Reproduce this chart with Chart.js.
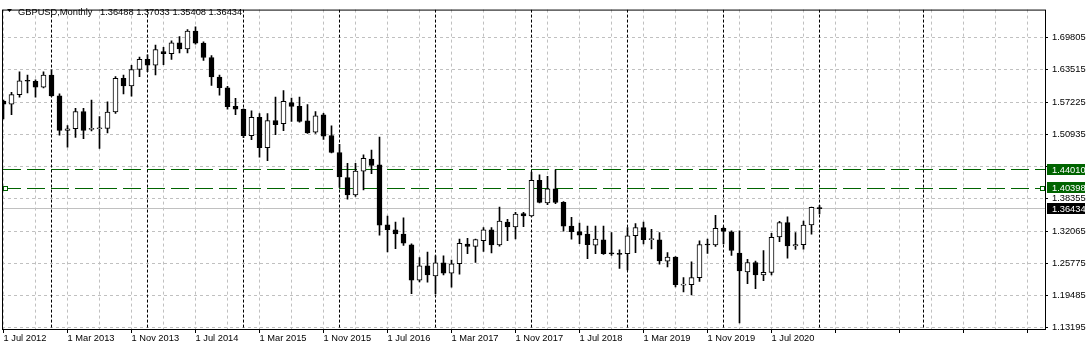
<!DOCTYPE html>
<html>
<head>
<meta charset="utf-8">
<title>GBPUSD,Monthly</title>
<script src="https://cdn.jsdelivr.net/npm/chart.js@4.4.1/dist/chart.umd.min.js"></script>
<style>
  html, body { margin: 0; padding: 0; background: #fff; }
</style>
</head>
<body>
<canvas id="myChart" width="1091" height="351"></canvas>
<script>
// monthly bars, index 0 = Jul 2012, last = Jan 2021
const opens = [
  1.5743, 1.5680, 1.5870, 1.6137, 1.6130, 1.6016, 1.6251, 1.5845, 1.5172, 1.5203,
  1.5540, 1.5190, 1.5203, 1.5210, 1.5530, 1.6187, 1.6041, 1.6359, 1.6556, 1.6442,
  1.6708, 1.6670, 1.6880, 1.6759, 1.7108, 1.6873, 1.6594, 1.6213, 1.6003, 1.5641,
  1.5584, 1.5070, 1.5426, 1.4834, 1.5362, 1.5300, 1.5715, 1.5638, 1.5358, 1.5135,
  1.5473, 1.5071, 1.4740, 1.4250, 1.3912, 1.4377, 1.4613, 1.4498, 1.3326, 1.3231,
  1.3148, 1.2937, 1.2249, 1.2530, 1.2332, 1.2587, 1.2383, 1.2568, 1.2950, 1.2906,
  1.3020, 1.3230, 1.2937, 1.3383, 1.3288, 1.3549, 1.3500, 1.4197, 1.3753, 1.4032,
  1.3767, 1.3305, 1.3196, 1.3145, 1.2930, 1.3037, 1.2770, 1.2760, 1.2764, 1.3114,
  1.3273, 1.3040, 1.3037, 1.2620, 1.2700, 1.2152, 1.2160, 1.2297, 1.2942, 1.2935,
  1.3260, 1.3190, 1.2777, 1.2408, 1.2592, 1.2350, 1.2401, 1.3092, 1.3371, 1.2918,
  1.2943, 1.3328, 1.36488
];
const highs = [
  1.5760, 1.5914, 1.6315, 1.6251, 1.6156, 1.6315, 1.6346, 1.5883, 1.5267, 1.5603,
  1.5603, 1.5762, 1.5438, 1.5730, 1.6219, 1.6251, 1.6442, 1.6600, 1.6645, 1.6835,
  1.6791, 1.6918, 1.7000, 1.7140, 1.7191, 1.6899, 1.6632, 1.6251, 1.6029, 1.5794,
  1.5590, 1.5553, 1.5501, 1.5498, 1.5819, 1.5950, 1.5800, 1.5823, 1.5676, 1.5536,
  1.5504, 1.5262, 1.4899, 1.4530, 1.4530, 1.4695, 1.4785, 1.5039, 1.3498, 1.3383,
  1.3466, 1.2956, 1.2690, 1.2797, 1.2721, 1.2721, 1.2638, 1.3052, 1.3065, 1.3052,
  1.3275, 1.3275, 1.3676, 1.3434, 1.3574, 1.3574, 1.4357, 1.4305, 1.4273, 1.4401,
  1.3780, 1.3473, 1.3362, 1.3305, 1.3304, 1.3304, 1.3176, 1.2840, 1.3273, 1.3350,
  1.3380, 1.3240, 1.3176, 1.2784, 1.2710, 1.2300, 1.2605, 1.3018, 1.3050, 1.3515,
  1.3284, 1.3209, 1.3209, 1.2655, 1.2618, 1.2827, 1.3164, 1.3395, 1.3482, 1.3177,
  1.3400, 1.3675, 1.37033
];
const lows = [
  1.5394, 1.5476, 1.5819, 1.5902, 1.5819, 1.6000, 1.5835, 1.5076, 1.4841, 1.5036,
  1.5011, 1.5158, 1.4821, 1.5120, 1.5500, 1.5883, 1.5838, 1.6219, 1.6315, 1.6251,
  1.6454, 1.6556, 1.6683, 1.6683, 1.6854, 1.6537, 1.6048, 1.5857, 1.5584, 1.5476,
  1.5030, 1.4991, 1.4650, 1.4578, 1.5087, 1.5167, 1.5345, 1.5330, 1.5110, 1.5110,
  1.4995, 1.4730, 1.4058, 1.3829, 1.3880, 1.4007, 1.4326, 1.3128, 1.2797, 1.2861,
  1.2925, 1.1985, 1.2215, 1.2211, 1.1982, 1.2351, 1.2109, 1.2364, 1.2765, 1.2593,
  1.2810, 1.2778, 1.2912, 1.3020, 1.3052, 1.3294, 1.3487, 1.3753, 1.3721, 1.3740,
  1.3205, 1.3050, 1.2960, 1.2668, 1.2764, 1.2751, 1.2732, 1.2478, 1.2446, 1.2783,
  1.2955, 1.2860, 1.2560, 1.2505, 1.2117, 1.2020, 1.1958, 1.2223, 1.2770, 1.2905,
  1.2954, 1.2732, 1.1415, 1.2179, 1.2083, 1.2236, 1.2350, 1.3000, 1.2676, 1.2846,
  1.2855, 1.3145, 1.35408
];
const closes = [
  1.5680, 1.5870, 1.6137, 1.6130, 1.6016, 1.6251, 1.5845, 1.5172, 1.5203, 1.5540,
  1.5172, 1.5203, 1.5210, 1.5530, 1.6187, 1.6041, 1.6359, 1.6556, 1.6442, 1.6746,
  1.6670, 1.6880, 1.6759, 1.7108, 1.6873, 1.6594, 1.6213, 1.6003, 1.5635, 1.5584,
  1.5070, 1.5426, 1.4834, 1.5362, 1.5280, 1.5740, 1.5638, 1.5345, 1.5122, 1.5453,
  1.5058, 1.4740, 1.4262, 1.3912, 1.4377, 1.4625, 1.4485, 1.3319, 1.3231, 1.3148,
  1.2969, 1.2249, 1.2530, 1.2351, 1.2587, 1.2383, 1.2568, 1.2969, 1.2906, 1.3039,
  1.3230, 1.2937, 1.3402, 1.3288, 1.3540, 1.3500, 1.4197, 1.3765, 1.4032, 1.3765,
  1.3300, 1.3196, 1.3126, 1.2940, 1.3050, 1.2764, 1.2760, 1.2750, 1.3114, 1.3273,
  1.3037, 1.3045, 1.2624, 1.2700, 1.2160, 1.2172, 1.2297, 1.2942, 1.2935, 1.3260,
  1.3200, 1.2827, 1.2427, 1.2592, 1.2350, 1.2400, 1.3082, 1.3370, 1.2918, 1.2941,
  1.3324, 1.3671, 1.36434
];

// axis labels
const xLabels = ['1 Jul 2012', '1 Mar 2013', '1 Nov 2013', '1 Jul 2014', '1 Mar 2015', '1 Nov 2015',
  '1 Jul 2016', '1 Mar 2017', '1 Nov 2017', '1 Jul 2018', '1 Mar 2019', '1 Nov 2019', '1 Jul 2020'];
const yTicks = [1.13195, 1.19485, 1.25775, 1.32065, 1.38355, 1.44645, 1.50935, 1.57225, 1.63515, 1.69805];

// period separators (bar index), horizontal levels and current price
const separators = [6, 18, 30, 42, 54, 66, 78, 90, 102, 115];
const levelHigh = 1.44010;
const levelLow = 1.40398;
const bid = 1.36434;
const title = 'GBPUSD,Monthly';
const ohlcText = '1.36488 1.37033 1.35408 1.36434';

const FONT = '"Liberation Sans", Arial, sans-serif';
const GREEN = '#006400';

let overlay = {
    id: 'overlay',
    beforeDatasetsDraw(chart) {
        const {ctx, chartArea: a, scales: {x, y}} = chart;
        ctx.save();
        ctx.beginPath();
        ctx.rect(a.left, a.top, a.right - a.left, a.bottom - a.top);
        ctx.clip();
        ctx.lineWidth = 1;

        // bid line
        let py = Math.round(y.getPixelForValue(bid) - 0.5) + 0.5;
        ctx.strokeStyle = '#c0c0c0';
        ctx.setLineDash([]);
        ctx.beginPath(); ctx.moveTo(a.left, py); ctx.lineTo(a.right, py); ctx.stroke();

        // separators
        ctx.strokeStyle = '#000';
        ctx.setLineDash([3, 2]);
        separators.forEach(function(i) {
            const px = Math.round(x.getPixelForValue(i) - 0.5) + 0.5;
            ctx.beginPath(); ctx.moveTo(px, a.top); ctx.lineTo(px, a.bottom); ctx.stroke();
        });

        // levels
        ctx.strokeStyle = GREEN;
        ctx.setLineDash([18, 6]);
        [levelHigh, levelLow].forEach(function(v) {
            const ly = Math.round(y.getPixelForValue(v) - 0.5) + 0.5;
            ctx.beginPath(); ctx.moveTo(a.left + 1, ly); ctx.lineTo(a.right, ly); ctx.stroke();
        });
        ctx.setLineDash([]);
        const sy = Math.round(y.getPixelForValue(levelLow) - 0.5) + 0.5;
        ctx.fillStyle = '#fff';
        [a.left + 1.5, a.right - 4.5].forEach(function(sx) {
            ctx.fillRect(sx - 0.5, sy - 2.5, 4, 4);
            ctx.strokeRect(sx, sy - 2, 4, 4);
        });
        ctx.restore();
    },
    afterDraw(chart) {
        const {ctx, chartArea: a, scales: {y}} = chart;
        ctx.save();
        // frame
        ctx.strokeStyle = '#000';
        ctx.lineWidth = 1;
        ctx.strokeRect(a.left + 0.5, a.top + 0.5, a.right - a.left, a.bottom - a.top);

        // price boxes on the axis
        ctx.font = '9.3px ' + FONT;
        ctx.textBaseline = 'middle';
        ctx.textAlign = 'left';
        [[levelHigh, GREEN], [levelLow, GREEN], [bid, '#000']].forEach(function(b) {
            const by = Math.round(y.getPixelForValue(b[0]));
            ctx.fillStyle = b[1];
            ctx.fillRect(a.right + 2, by - 6, 38, 11);
            ctx.fillStyle = '#fff';
            ctx.fillText(b[0].toFixed(5), a.right + 7, by);
        });

        // title
        ctx.fillStyle = '#000';
        ctx.beginPath();
        ctx.moveTo(7, 9); ctx.lineTo(12, 9); ctx.lineTo(9.5, 12); ctx.closePath();
        ctx.fill();
        ctx.textBaseline = 'alphabetic';
        ctx.fillText(title, 18, 14.5);
        ctx.fillText(ohlcText, 100, 14.5);
        ctx.restore();
    }
};

const ctx = document.getElementById('myChart');
new Chart(ctx, {
    type: 'bar',
    data: {
        datasets: [{
            label: 'body',
            data: opens.map((o, i) => ({x: i, y: [o, closes[i]]})),
            backgroundColor: function(c) {
                const i = c.dataIndex;
                if (i === undefined) return '#fff';
                return (closes[i] >= opens[i]) ? '#fff' : '#000';
            },
            borderColor: '#000',
            borderWidth: 1,
            borderSkipped: false,
            minBarLength: 1,
            barThickness: 5,
            grouped: false,
            order: 1
        }, {
            label: 'wick',
            data: highs.map((h, i) => ({x: i, y: [lows[i], h]})),
            backgroundColor: '#000',
            borderWidth: 0,
            barThickness: 1,
            grouped: false,
            order: 2
        }]
    },
    options: {
        responsive: false,
        animation: false,
        devicePixelRatio: 1,
        layout: {padding: {left: 2, top: 2, right: 0, bottom: 0}},
        plugins: {
            legend: false,
            tooltip: {enabled: false}
        },
        scales: {
            x: {
                type: 'linear',
                offset: false,
                min: -0.1875,
                max: 130.1875,
                afterBuildTicks: (s) => {
                    s.ticks = [];
                    for (let v = 0; v <= 128; v += 4) s.ticks.push({value: v});
                },
                afterFit: (s) => { s.height = 22; },
                grid: {
                    offset: false,
                    color: '#c0c0c0',
                    tickLength: 4,
                    tickColor: (c) => (c.tick && c.tick.value % 8 === 0) ? '#000' : 'rgba(0,0,0,0)'
                },
                border: {display: false, dash: [3, 3]},
                ticks: {
                    autoSkip: false,
                    maxRotation: 0,
                    align: 'start',
                    padding: 0,
                    color: '#000',
                    font: {family: FONT, size: 9.3},
                    callback: (v) => (v % 8 === 0 && xLabels[v / 8]) ? xLabels[v / 8] : ''
                }
            },
            y: {
                position: 'right',
                min: 1.1295,
                max: 1.75283,
                afterBuildTicks: (s) => { s.ticks = yTicks.map(v => ({value: v})); },
                afterFit: (s) => { s.width = 46; },
                grid: {color: '#c0c0c0', tickLength: 3, tickColor: '#000'},
                border: {display: false, dash: [3, 3]},
                ticks: {
                    padding: 4,
                    color: '#000',
                    font: {family: FONT, size: 9.3},
                    callback: (v) => (Math.abs(v - levelHigh) < 0.008) ? '' : v.toFixed(5)
                }
            }
        }
    },
    plugins: [overlay]
});
</script>
</body>
</html>
